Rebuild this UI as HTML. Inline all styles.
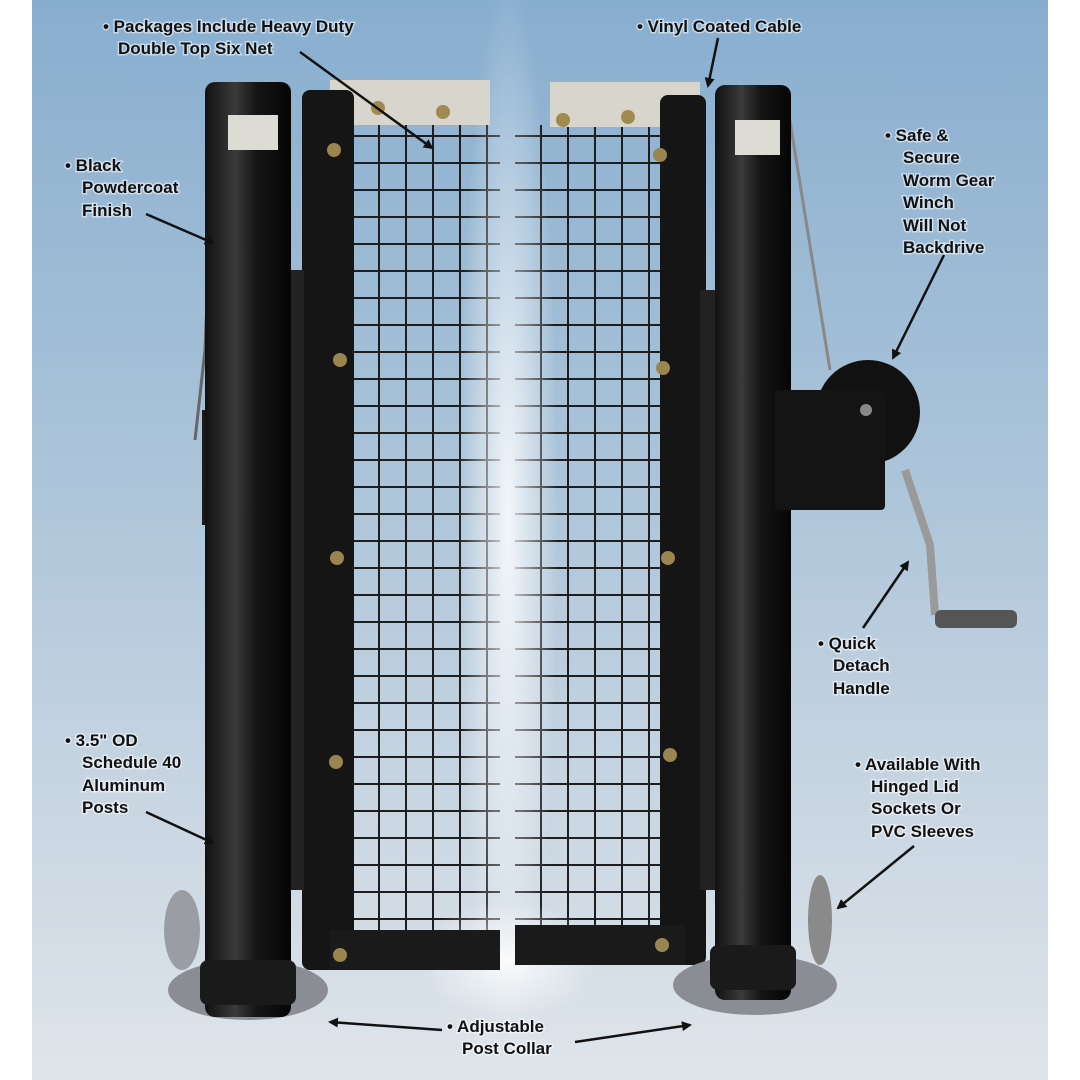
<!DOCTYPE html>
<html><head><meta charset="utf-8"><style>
body{margin:0;width:1080px;height:1080px;overflow:hidden;background:#fff}
svg{display:block}
text{font-family:"Liberation Sans",sans-serif;font-weight:bold;font-size:17px;fill:#111;stroke:#fff;stroke-width:3px;paint-order:stroke;stroke-opacity:.5}
</style></head><body>
<svg width="1080" height="1080" viewBox="0 0 1080 1080">
<defs>
<linearGradient id="bg" x1="0" y1="0" x2="0" y2="1">
<stop offset="0" stop-color="#88aecf"/><stop offset=".4" stop-color="#a8c2d8"/><stop offset=".75" stop-color="#c9d6e2"/><stop offset="1" stop-color="#dfe5ea"/></linearGradient>
<linearGradient id="post" x1="0" y1="0" x2="1" y2="0">
<stop offset="0" stop-color="#111"/><stop offset=".35" stop-color="#3a3a3a"/><stop offset=".6" stop-color="#151515"/><stop offset="1" stop-color="#050505"/></linearGradient>
<pattern id="net" width="27" height="27" patternUnits="userSpaceOnUse">
<path d="M0 0H27M0 0V27" stroke="#1e1e1e" stroke-width="4" fill="none"/></pattern>
<radialGradient id="mist" cx=".5" cy=".5" r=".5"><stop offset="0" stop-color="#fff" stop-opacity=".85"/><stop offset="1" stop-color="#fff" stop-opacity="0"/></radialGradient>
<marker id="ah" markerWidth="10" markerHeight="10" refX="8" refY="5" orient="auto" markerUnits="userSpaceOnUse"><path d="M0 0L10 5L0 10z" fill="#111"/></marker>
</defs>
<rect x="32" y="0" width="1016" height="1080" fill="url(#bg)"/>
<rect x="348" y="125" width="152" height="815" fill="url(#net)"/>
<rect x="515" y="125" width="148" height="815" fill="url(#net)"/>
<ellipse cx="508" cy="520" rx="50" ry="540" fill="url(#mist)"/>
<ellipse cx="508" cy="960" rx="90" ry="60" fill="url(#mist)"/>
<rect x="330" y="80" width="160" height="45" fill="#d8d6cc"/>
<rect x="550" y="82" width="150" height="45" fill="#d8d6cc"/>
<circle cx="378" cy="108" r="7" fill="#a08a50"/><circle cx="443" cy="112" r="7" fill="#a08a50"/>
<circle cx="563" cy="120" r="7" fill="#a08a50"/><circle cx="628" cy="117" r="7" fill="#a08a50"/><circle cx="688" cy="120" r="7" fill="#a08a50"/>
<rect x="302" y="90" width="52" height="880" rx="8" fill="#151515"/>
<rect x="660" y="95" width="46" height="870" rx="8" fill="#151515"/>
<rect x="330" y="930" width="170" height="40" fill="#1a1a1a"/>
<rect x="515" y="925" width="170" height="40" fill="#1a1a1a"/>
<g fill="#9a8450"><circle cx="334" cy="150" r="7"/><circle cx="340" cy="360" r="7"/><circle cx="337" cy="558" r="7"/><circle cx="336" cy="762" r="7"/><circle cx="340" cy="955" r="7"/>
<circle cx="660" cy="155" r="7"/><circle cx="663" cy="368" r="7"/><circle cx="668" cy="558" r="7"/><circle cx="670" cy="755" r="7"/><circle cx="662" cy="945" r="7"/></g>
<rect x="290" y="270" width="14" height="620" fill="#222"/>
<rect x="700" y="290" width="18" height="600" fill="#222"/>
<path d="M213 150 L205 350 L195 440" stroke="#666" stroke-width="3" fill="none"/>
<rect x="202" y="410" width="16" height="115" fill="#1a1a1a"/>
<path d="M785 90 L830 370" stroke="#888" stroke-width="3"/>
<ellipse cx="248" cy="990" rx="80" ry="30" fill="#8a8e94"/>
<ellipse cx="755" cy="985" rx="82" ry="30" fill="#8a8e94"/>
<ellipse cx="182" cy="930" rx="18" ry="40" fill="#9a9ea4"/>
<ellipse cx="820" cy="920" rx="12" ry="45" fill="#8a8a8a"/>
<rect x="205" y="82" width="86" height="935" rx="10" fill="url(#post)"/>
<rect x="200" y="960" width="96" height="45" rx="8" fill="#1a1a1a"/>
<rect x="715" y="85" width="76" height="915" rx="10" fill="url(#post)"/>
<rect x="710" y="945" width="86" height="45" rx="8" fill="#1a1a1a"/>
<rect x="228" y="115" width="50" height="35" fill="#dcdcd4"/>
<rect x="735" y="120" width="45" height="35" fill="#dcdcd4"/>
<circle cx="868" cy="412" r="52" fill="#111"/>
<rect x="775" y="390" width="110" height="120" rx="4" fill="#141414"/>
<circle cx="866" cy="410" r="6" fill="#888"/>
<path d="M905 470 L930 545 L935 615" stroke="#9a9a9a" stroke-width="8" fill="none"/>
<rect x="935" y="610" width="82" height="18" rx="6" fill="#555"/>
<g stroke="#111" stroke-width="2.5" fill="none" marker-end="url(#ah)">
<path d="M300 52 L432 148"/><path d="M718 38 L708 86"/><path d="M146 214 L213 243"/>
<path d="M944 255 L893 358"/><path d="M863 628 L908 562"/><path d="M146 812 L213 843"/>
<path d="M914 846 L838 908"/><path d="M442 1030 L330 1022"/><path d="M575 1042 L690 1025"/>
</g>
<text x="103" y="32">• Packages Include Heavy Duty</text>
<text x="118" y="54">Double Top Six Net</text>
<text x="637" y="32">• Vinyl Coated Cable</text>
<text x="65" y="171">• Black</text><text x="82" y="193">Powdercoat</text><text x="82" y="216">Finish</text>
<text x="885" y="141">• Safe &amp;</text><text x="903" y="163">Secure</text><text x="903" y="186">Worm Gear</text><text x="903" y="208">Winch</text><text x="903" y="231">Will Not</text><text x="903" y="253">Backdrive</text>
<text x="818" y="649">• Quick</text><text x="833" y="671">Detach</text><text x="833" y="694">Handle</text>
<text x="65" y="746">• 3.5" OD</text><text x="82" y="768">Schedule 40</text><text x="82" y="791">Aluminum</text><text x="82" y="813">Posts</text>
<text x="855" y="770">• Available With</text><text x="871" y="792">Hinged Lid</text><text x="871" y="814">Sockets Or</text><text x="871" y="837">PVC Sleeves</text>
<text x="447" y="1032">• Adjustable</text><text x="462" y="1054">Post Collar</text>
</svg>
</body></html>
